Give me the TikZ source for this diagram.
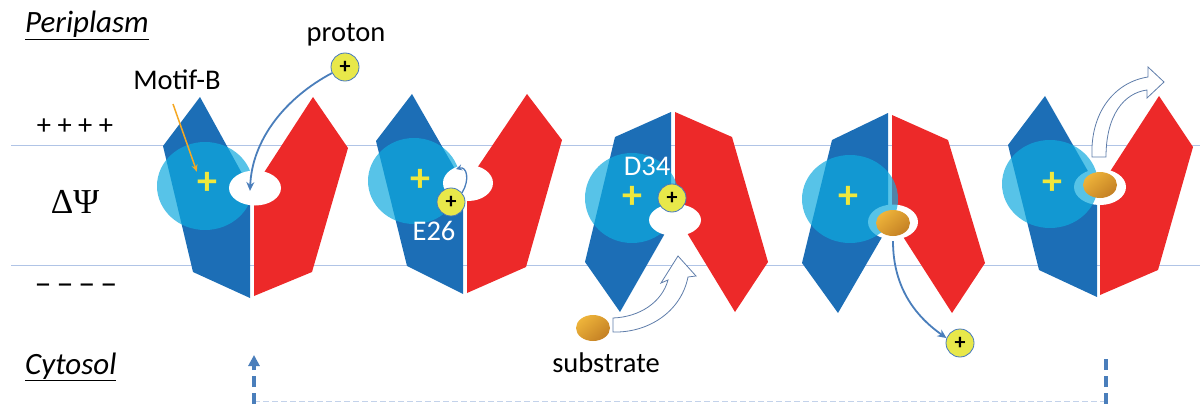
\documentclass[tikz,border=0pt]{standalone}
\usepackage{fontspec}
\setmainfont{Carlito}
\newfontfamily\greekserif{Liberation Serif}
\usetikzlibrary{arrows.meta,shapes.geometric}

\definecolor{memline}{RGB}{176,196,230}
\definecolor{tmblue}{RGB}{28,110,182}
\definecolor{tmred}{RGB}{237,41,41}
\definecolor{halocol}{RGB}{15,170,222}
\definecolor{plusyellow}{RGB}{240,232,60}
\definecolor{protonfill}{RGB}{232,232,74}
\definecolor{protonedge}{RGB}{70,120,190}
\definecolor{arrowblue}{RGB}{74,126,187}
\definecolor{motiforange}{RGB}{245,168,35}
\definecolor{hollowedge}{RGB}{95,125,170}
\definecolor{subslight}{RGB}{238,180,58}
\definecolor{subsdark}{RGB}{196,128,36}
\definecolor{cycleline}{RGB}{195,210,234}

\begin{document}
\begin{tikzpicture}[x=1pt,y=-1pt,
  membrane/.style={draw=memline, line width=1pt},
  bluepart/.style={fill=tmblue},
  redpart/.style={fill=tmred},
  halo/.style={fill=halocol, fill opacity=0.7},
  pore/.style={fill=white},
  plussign/.style={text=plusyellow, inner sep=0, font=\fontsize{40}{40}\selectfont\bfseries},
  protonball/.style={circle, fill=protonfill, draw=protonedge, line width=0.8pt,
    minimum size=28pt, inner sep=0, font=\fontsize{22}{22}\selectfont\bfseries},
  substrateball/.style={ellipse, minimum width=34pt, minimum height=26pt, inner sep=0,
    top color=subslight, bottom color=subsdark, shading angle=40},
  lbl/.style={inner sep=0, font=\fontsize{28.5}{32}\selectfont},
  compartment/.style={inner sep=0, anchor=base west, font=\fontsize{31}{34}\selectfont\itshape},
  resname/.style={lbl, text=white},
  flowarrow/.style={draw=arrowblue, line width=1.8pt, -{Stealth[length=9pt,width=8pt]}},
  hollow/.style={fill=white, draw=hollowedge, line width=0.8pt},
  cyclearrow/.style={draw=arrowblue, line width=3.5pt, dash pattern=on 11pt off 6pt},
]
\useasboundingbox (0,0) rectangle (1200,404);

% membrane boundaries
\draw[membrane] (11,145) -- (1200,145);
\draw[membrane] (11,265) -- (1200,265);

% compartment labels and potential
\node[compartment] (peri) at (25,33) {\underline{Periplasm}};
\node[compartment] (cyto) at (25,374) {\underline{Cytosol}};
\node[lbl] (pluses) at (75,127) {+ + + +};
\node[inner sep=0, font=\fontsize{34}{36}\selectfont] (minuses) at (76,289)
  {–\hspace{5pt}–\hspace{5pt}–\hspace{5pt}–};
\node[inner sep=0, anchor=base, font=\fontsize{35}{38}\greekserif] (dpsi) at (75,213) {ΔΨ};

% ---------- state 1: open to periplasm ----------
\fill[bluepart] (200,97) -- (163,146) -- (193,272) -- (250,298) -- (250,188) -- cycle;
\fill[redpart] (313,97) -- (348,148) -- (312,272) -- (254,296) -- (254,188) -- cycle;
\fill[halo] (205,186) ellipse (48pt and 44pt);
\fill[pore] (255,188) ellipse (26pt and 17.5pt);
\coordinate (h1) at (250,191);
\node[plussign] (m1) at (207,183) {+};
\node[lbl, anchor=base] (motif) at (177,89) {Motif-B};
\node[lbl, anchor=base] (protonlbl) at (346,42) {proton};
\node[protonball] (p1) at (345,67) {+};
\coordinate (motiftail) at (173,104);
\draw[draw=motiforange, line width=1.5pt, -{Stealth[length=7pt,width=6pt]}]
  (motiftail) -- (m1.north west);
\draw[flowarrow] (p1.205) .. controls (285,98) and (252,140) .. (h1);

% ---------- state 2: proton bound at E26 ----------
\fill[bluepart] (412,94) -- (376,141) -- (407,266) -- (463,294) -- (463,183) -- cycle;
\fill[redpart] (527,94) -- (562,140) -- (526,267) -- (467,293) -- (467,183) -- cycle;
\fill[halo] (414,181) ellipse (46pt and 43pt);
\fill[pore] (468,183) ellipse (25pt and 18pt);
\node[plussign] (m2) at (420,180) {+};
\node[protonball] (p2) at (451,202) {+};
\node[resname, anchor=base] (e26) at (434,240) {E26};
\coordinate (t2) at (456,169);
\draw[draw=arrowblue, line width=1.3pt, -{Stealth[length=6pt,width=6pt]}]
  (p2.40) .. controls (470,180) and (467,166) .. (t2);

% ---------- state 3: open to cytosol, proton at D34 ----------
\fill[bluepart] (671,112) -- (615,137) -- (585,262) -- (620,312) -- (668,228) -- (671,220) -- cycle;
\fill[redpart] (675,112) -- (732,137) -- (768,262) -- (735,312) -- (684,228) -- (675,220) -- cycle;
\fill[halo] (632,198) ellipse (47pt and 45pt);
\fill[pore] (675,220) ellipse (26pt and 16pt);
\node[plussign] (m3) at (632,197) {+};
\node[resname, anchor=base] (d34) at (647,175) {D34};
\node[protonball] (p3) at (672,198) {+};
\node[substrateball] (s3) at (593,328) {};
\node[lbl, anchor=base] (subslbl) at (606,372) {substrate};
% hollow arrow: substrate entering from the cytosol
\draw[hollow] (613,318) .. controls (640,317) and (662,302) .. (668,280)
  -- (661,283) -- (678,256) -- (696,276) -- (688,277)
  .. controls (681,312) and (648,333) .. (613,332) -- cycle;

% ---------- state 4: substrate bound, proton released ----------
\fill[bluepart] (888,113) -- (832,140) -- (802,263) -- (838,313) -- (885,232) -- (888,222) -- cycle;
\fill[redpart] (892,115) -- (948,140) -- (985,263) -- (952,313) -- (900,232) -- (892,222) -- cycle;
\fill[pore] (893,222) ellipse (25pt and 17.5pt);
\fill[halo] (850,199) ellipse (48pt and 44pt);
\node[plussign] (m4) at (848,197) {+};
\node[substrateball] (s4) at (893,223) {};
\node[protonball] (p4) at (960,343) {+};
\draw[flowarrow, shorten <=5pt] (s4.south) .. controls (893,290) and (918,318) .. (p4.160);

% ---------- state 5: substrate exported to periplasm ----------
\fill[bluepart] (1045,96) -- (1008,145) -- (1039,270) -- (1097,297) -- (1097,187) -- cycle;
\fill[redpart] (1159,96) -- (1193,147) -- (1158,270) -- (1100,295) -- (1100,187) -- cycle;
\fill[pore] (1100,187) ellipse (26pt and 18pt);
\fill[halo] (1050,184) ellipse (48pt and 44pt);
\node[plussign] (m5) at (1052,183) {+};
\node[substrateball] (s5) at (1100,185) {};
\draw[hollow] (1092,157) .. controls (1090,112) and (1115,82) .. (1148,77)
  -- (1148,67) -- (1164,82) -- (1147,98) -- (1147,90)
  .. controls (1124,93) and (1106,115) .. (1106,157) -- cycle;

% ---------- reset cycle ----------
\coordinate (cl) at (254,401);
\coordinate (cr) at (1106,401);
\coordinate (la) at (254,355);
\coordinate (ra) at (1106,357);
\draw[draw=cycleline, line width=1pt, dash pattern=on 6pt off 3pt] (cl) -- (cr);
\draw[cyclearrow, -{Triangle[length=11pt,width=11pt]}] (cl) ++(0,3) -- (la);
\draw[cyclearrow] (cr) ++(0,3) -- (ra);
\end{tikzpicture}
\end{document}
